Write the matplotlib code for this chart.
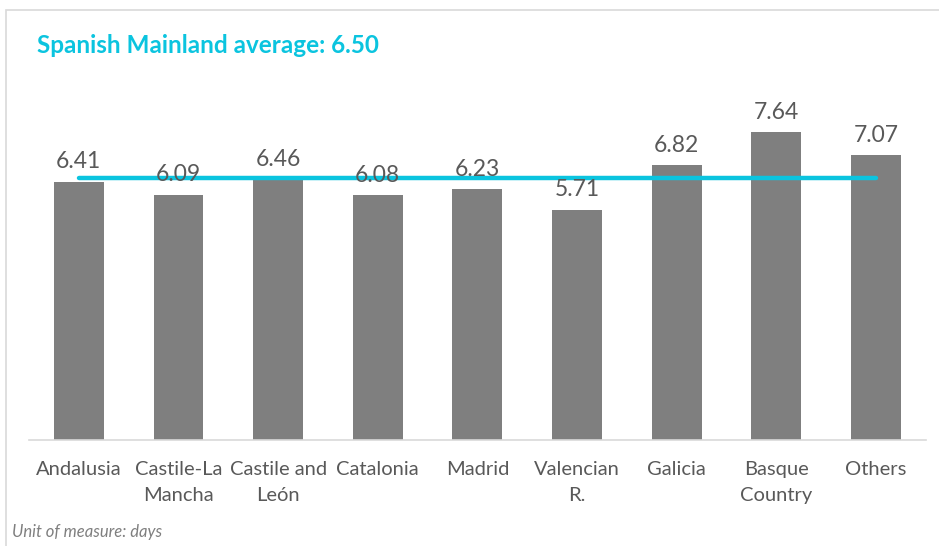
import matplotlib
matplotlib.use("Agg")
import matplotlib.pyplot as plt
from matplotlib.patches import Rectangle

categories = ["Andalusia", "Castile-La\nMancha", "Castile and\nLeón", "Catalonia", "Madrid",
              "Valencian\nR.", "Galicia", "Basque\nCountry", "Others"]
values = [6.41, 6.09, 6.46, 6.08, 6.23, 5.71, 6.82, 7.64, 7.07]
average = 6.50
title = "Spanish Mainland average: 6.50"
footnote = "Unit of measure: days"

FONT = ["Lato", "DejaVu Sans"]
plt.rcParams['font.family'] = FONT

W, H = 939, 546
fig = plt.figure(figsize=(W / 100, H / 100), dpi=100)
ax = fig.add_axes([29 / W, (H - 440) / H, (925.8 - 29) / W, (440 - 77.75) / H])

x = list(range(len(categories)))
ax.bar(x, values, width=0.5, color="#7F7F7F", zorder=2)
ax.plot([x[0], x[-1]], [average, average], color="#0BC4DF", lw=3.2, solid_capstyle="round", zorder=3)

for xi, v in zip(x, values):
    ax.annotate(f"{v:.2f}", (xi, v), xytext=(0, 7), textcoords="offset points",
                ha="center", va="bottom", fontsize=16.5, color="#595959", zorder=4)

ax.set_xlim(-0.5, len(categories) - 0.5)
ax.set_ylim(0, 9)
ax.set_xticks(x)
ax.set_xticklabels(categories, fontsize=14.5, color="#595959", linespacing=1.65)
ax.tick_params(axis="x", length=0, pad=15)
ax.set_yticks([])
for s in ["top", "right", "left"]:
    ax.spines[s].set_visible(False)
ax.spines["bottom"].set_color("#D9D9D9")
ax.spines["bottom"].set_linewidth(1.2)

fig.text(37 / W, 1 - 53 / H, title, fontsize=17.5, fontweight="bold", color="#0BC4DF",
         ha="left", va="baseline")
fig.text(12 / W, 1 - 537 / H, footnote, fontsize=12, style="italic", color="#7F7F7F",
         ha="left", va="baseline")

fig.patches.append(Rectangle((5.5 / W, -0.1), 1.2, 1.1 - 10.5 / H, transform=fig.transFigure,
                             fill=False, edgecolor="#D9D9D9", lw=1.2))

fig.savefig("out.png", dpi=100)
